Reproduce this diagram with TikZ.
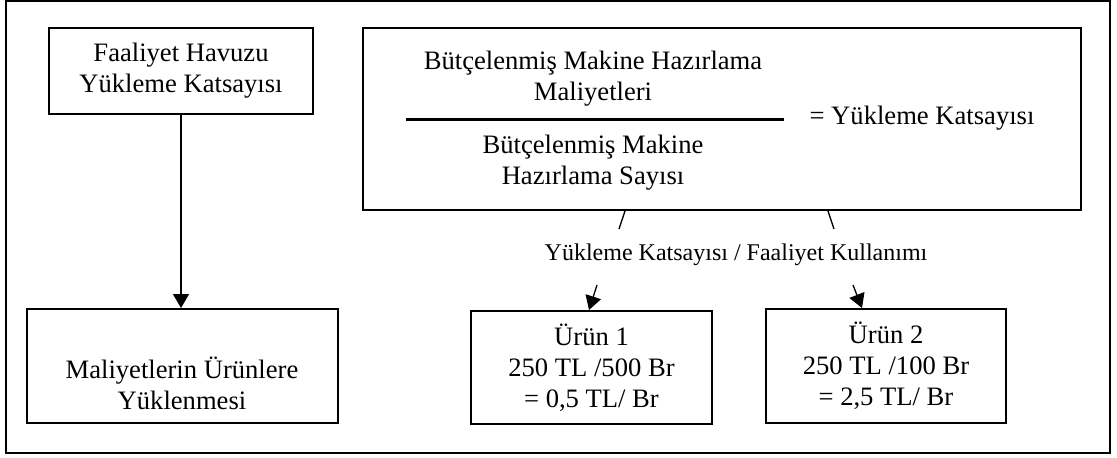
\documentclass[tikz,border=0pt]{standalone}
\usepackage{fontspec}
\setmainfont{Liberation Serif}
\usepackage{tikz}
\usetikzlibrary{arrows.meta, positioning}

\begin{document}
\begin{tikzpicture}[
  x=0.5pt, y=-0.5pt,
  box/.style={rectangle, draw, line width=1pt, inner sep=0pt, align=center, font=\fontsize{13.3}{15.5}\selectfont},
  txt/.style={inner sep=0pt, align=center, font=\fontsize{13.3}{15.5}\selectfont},
  small/.style={txt, font=\fontsize{12}{14}\selectfont},
  link/.style={line width=0.65pt},
  pointer/.style={link, -{Triangle[length=7pt, width=8pt]}}
]
  \useasboundingbox (0,0) rectangle (1117,457);
  \draw[line width=0.9pt] (6,1) rectangle (1110,453);

  \node[box, minimum width=132pt, minimum height=43pt] (havuz) at (181,71) {Faaliyet Havuzu\\Yükleme Katsayısı};
  \node[box, minimum width=155.5pt, minimum height=57pt] (maliyet) at (182.5,366) {};
  \node[txt] (maliyettxt) at (182,383) {Maliyetlerin Ürünlere\\Yüklenmesi};

  \node[box, minimum width=359pt, minimum height=91pt] (formul) at (722,119) {};
  \node[txt] (pay) at (593,79) {Bütçelenmiş Makine Hazırlama\\Maliyetleri};
  \node[txt] (payda) at (593,163) {Bütçelenmiş Makine\\Hazırlama Sayısı};
  \draw[line width=1.5pt] (406,119) -- (784,119);
  \node[txt] (katsayi) at (922,118) {= Yükleme Katsayısı};

  \node[small] (kullanim) at (736,255) {Yükleme Katsayısı / Faaliyet Kullanımı};

  \node[box, minimum width=120.5pt, minimum height=56.5pt] (urun1) at (591.5,367.5) {Ürün 1\\250 TL /500 Br\\= 0,5 TL/ Br};
  \node[box, minimum width=120pt, minimum height=57pt] (urun2) at (886,366) {Ürün 2\\250 TL /100 Br\\= 2,5 TL/ Br};

  \coordinate (k1) at (619,229);
  \coordinate (k2) at (597,285);
  \coordinate (k3) at (834,229);
  \coordinate (k4) at (853,285);

  \draw[pointer] (havuz.south) -- (havuz.south |- maliyet.north);
  \draw[link] ([xshift=-48.5pt]formul.south) -- (k1);
  \draw[link] ([xshift=53pt]formul.south) -- (k3);
  \draw[pointer] (k2) -- ([xshift=-1.25pt]urun1.north);
  \draw[pointer] (k4) -- ([xshift=-12pt]urun2.north);
\end{tikzpicture}
\end{document}
